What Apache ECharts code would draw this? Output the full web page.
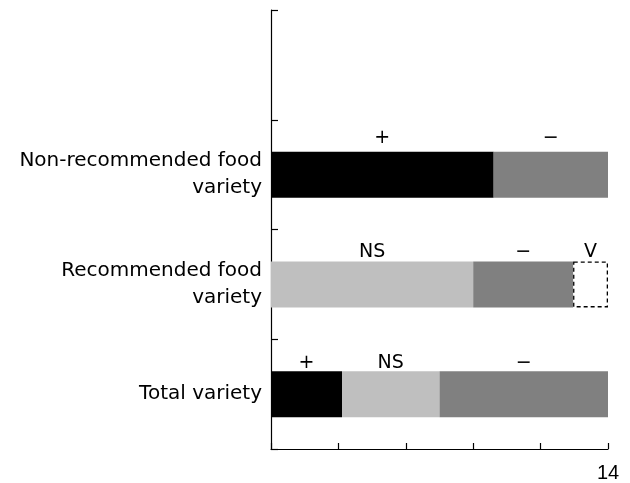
<!DOCTYPE html>
<html>
<head>
<meta charset="utf-8">
<script src="https://cdn.jsdelivr.net/npm/echarts@6/dist/echarts.min.js"></script>
<style>html,body{margin:0;padding:0;background:#fff}#c{width:630px;height:483px}</style>
</head>
<body>
<div id="c"></div>
<script>
// Categories from bottom to top
const categories = ['Total variety', 'Recommended food\nvariety', 'Non-recommended food\nvariety', ''];
// Segment values (stacked, left to right)
const blackVals = [2.95, null, 9.25, null];
const lightVals = [4.05, 8.4, null, null];
const grayVals  = [7.0, 4.15, 4.75, null];
const dashVals  = [null, 1.45, null, null];
// Annotation labels above each segment
const blackLbl = ['+', '', '+', ''];
const lightLbl = ['NS', 'NS', '', ''];
const grayLbl  = ['\u2212', '\u2212', '\u2212', ''];
const dashLbl  = ['', 'V', '', ''];
const xTickLabels = ['14'];

const labelDist = [-1, 0, 4, 0];
function mk(vals, lbls) {
  return vals.map((v, i) => ({
    value: v,
    label: { show: !!lbls[i], formatter: lbls[i] || '', distance: labelDist[i] }
  }));
}
const lab = { position: 'top', color: '#000', fontSize: 19, fontFamily: 'DejaVu Sans' };

const chart = echarts.init(document.getElementById('c'));
chart.setOption({
  animation: false,
  grid: { left: 271, right: 22, top: 10, bottom: 34 },
  xAxis: {
    type: 'value', min: 0, max: 14, interval: 2.8,
    axisLine: { show: true, lineStyle: { color: '#000', width: 1.2 } },
    axisTick: { show: true, inside: true, length: 6, lineStyle: { color: '#000', width: 1.2 } },
    splitLine: { show: false },
    axisLabel: {
      color: '#000', fontSize: 20, fontFamily: 'Liberation Sans', margin: 14,
      formatter: v => xTickLabels.indexOf(String(Math.round(v * 1000) / 1000)) >= 0 ? String(Math.round(v)) : ''
    }
  },
  yAxis: {
    type: 'category', data: categories,
    axisLine: { show: true, lineStyle: { color: '#000', width: 1.2 } },
    axisTick: { show: true, inside: true, length: 7, lineStyle: { color: '#000', width: 1.2 } },
    axisLabel: { color: '#000', fontSize: 20, fontFamily: 'DejaVu Sans', margin: 9, lineHeight: 27, align: 'right', padding: [6, 0, 0, 0] }
  },
  series: [
    { type: 'bar', stack: 's', barWidth: 46, data: mk(blackVals, blackLbl), itemStyle: { color: '#000' }, label: lab },
    { type: 'bar', stack: 's', barWidth: 46, data: mk(lightVals, lightLbl), itemStyle: { color: '#bfbfbf' }, label: lab },
    { type: 'bar', stack: 's', barWidth: 46, data: mk(grayVals, grayLbl), itemStyle: { color: '#808080' }, label: lab },
    { type: 'bar', stack: 's', barWidth: 46, data: mk(dashVals, dashLbl),
      itemStyle: { color: 'rgba(255,255,255,0)', borderColor: '#000', borderWidth: 1.3, borderType: [4, 3] }, label: lab }
  ]
});
</script>
</body>
</html>
